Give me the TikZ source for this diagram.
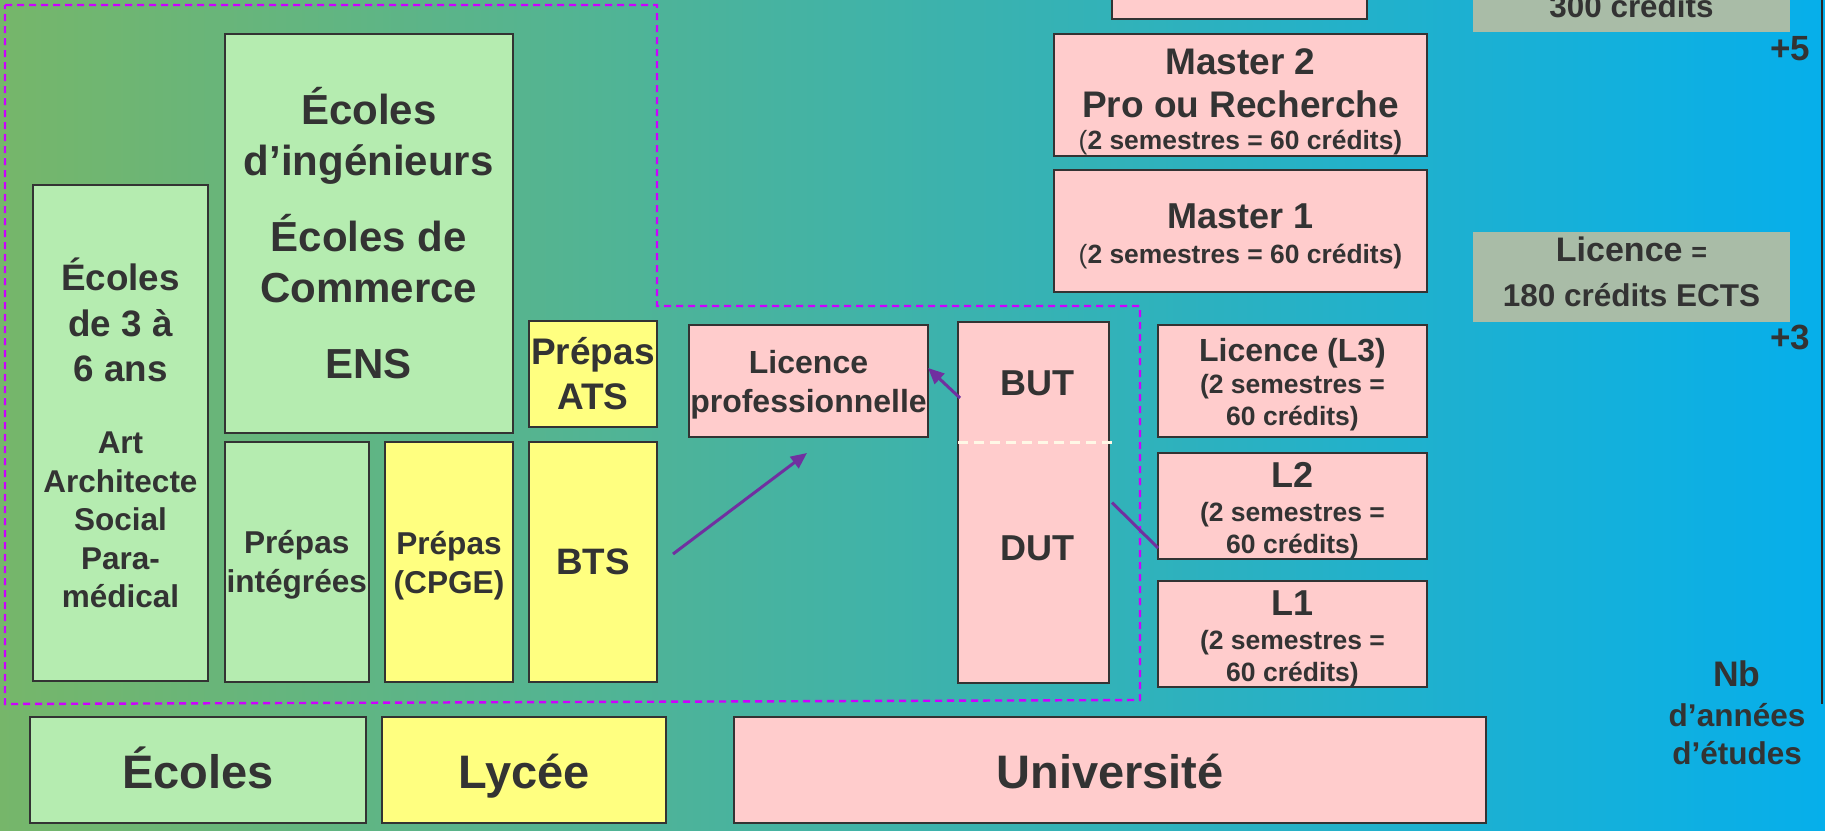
\documentclass[tikz,border=0pt]{standalone}
\usepackage{fontspec}
\setmainfont{Liberation Sans}
\usetikzlibrary{positioning,arrows.meta,calc}
\definecolor{ink}{RGB}{51,51,51}
\definecolor{vertpale}{RGB}{181,236,176}
\definecolor{jaunepale}{RGB}{255,255,128}
\definecolor{rosepale}{RGB}{255,204,204}
\definecolor{grisvert}{RGB}{169,188,167}
\definecolor{fondg}{RGB}{118,182,106}
\definecolor{fondm}{RGB}{50,178,178}
\definecolor{fondd}{RGB}{6,175,235}
\definecolor{pointille}{RGB}{204,0,255}
\definecolor{mauve}{RGB}{112,48,160}
\definecolor{creme}{RGB}{255,248,230}
\newcommand\gras[2]{\fontsize{#1}{#2}\selectfont\bfseries}

\begin{document}
\begin{tikzpicture}[x=0.5pt, y=-0.5pt, text=ink,
  box/.style={draw=ink, line width=1pt, align=center, inner sep=0pt, outer sep=0pt},
  vert/.style={box, fill=vertpale},
  jaune/.style={box, fill=jaunepale},
  rose/.style={box, fill=rosepale},
  gris/.style={fill=grisvert, align=center, inner sep=0pt},
  ligne/.style={font=\gras{23.5}{28}, text height=18pt, text depth=0pt},
  fleche/.style={draw=mauve, line width=1.5pt, -{Triangle[length=8pt,width=7pt]}},
  zone/.style={draw=pointille, line width=1.2pt, dash pattern=on 3.5pt off 2.5pt}]
   \useasboundingbox (0,0) rectangle (1825,830);
   \clip (0,0) rectangle (1825,830);
   \shade[left color=fondg, middle color=fondm, right color=fondd] (0,0) rectangle (1825,830);
   \draw[zone] (5,5) -- (657,5) -- (657,306) -- (1140,306) -- (1140,700) -- (5,704) -- cycle;

   \node[vert, minimum width=87.5pt, minimum height=248pt, font=\gras{15.75}{19.25}] (ecoles36) at (120.5,433)
     {{\gras{18.4}{22.75}Écoles}\\[3.5pt]{\gras{18.4}{22.75}de 3 à}\\[3.5pt]{\gras{18.4}{22.75}6 ans}\\[16.75pt]Art\\Architecte\\Social\\Para-\\médical};
   \node[vert, minimum width=144.25pt, minimum height=199.5pt, font=\gras{21}{25.5}] (ing) at (368.75,233.5)
     {Écoles\\d’ingénieurs\\[12.5pt]Écoles de\\Commerce\\[12.5pt]ENS};
   \node[vert, minimum width=72.25pt, minimum height=120pt, font=\gras{15.8}{19.5}] (pint) at (296.75,562) {\rule{0pt}{14.8pt}Prépas\\intégrées};
   \node[jaune, minimum width=64pt, minimum height=120pt, font=\gras{15.8}{19.5}] (cpge) [right=8pt of pint] {\rule{0pt}{14.8pt}Prépas\\(CPGE)};
   \node[jaune, minimum width=64pt, minimum height=120pt, font=\gras{18.4}{22}] (bts) [right=8pt of cpge] {BTS};
   \node[jaune, minimum width=64pt, minimum height=53pt, font=\gras{18.5}{22.5}] (ats) [above=7.5pt of bts] {Prépas\\ATS};

   \node[vert, ligne, minimum width=168pt, minimum height=53pt] (ecoles) at (198,770) {Écoles};
   \node[jaune, ligne, minimum width=142pt, minimum height=53pt] (lycee) [right=8pt of ecoles] {Lycée};
   \node[rose, ligne, minimum width=376pt, minimum height=53pt] (univ) at (1110,770) {Université};

   \node[rose, minimum width=119.5pt, minimum height=56pt, font=\gras{16}{19.5}] (lpro) at (808.5,381) {\rule{0pt}{14.85pt}Licence\\professionnelle};
   \node[rose, minimum width=75.5pt, minimum height=180.5pt] (butdut) at (1033.5,502.5) {};
   \draw[creme, line width=1.5pt, dash pattern=on 5pt off 3pt] ($(butdut.north west)+(0,120)$) -- ($(butdut.north east)+(3,120)$);
   \node[font=\gras{18}{22}] (but) at (1037,383) {BUT};
   \node[font=\gras{18}{22}] (dut) at (1037,548) {DUT};

   \node[rose, minimum width=127.5pt, minimum height=39pt] (mtop) at (1239.5,-20) {};
   \node[rose, minimum width=186.5pt, minimum height=61pt, font=\gras{18.5}{21.5}] (m2) at (1240.5,95)
     {\rule{0pt}{19.3pt}Master 2\\Pro ou Recherche\\[-5.5pt]{\gras{13.2}{16}\mdseries(\bfseries2 semestres = 60 crédits)}};
   \node[rose, minimum width=186.5pt, minimum height=61pt, font=\gras{18}{17.5}] (m1) [below=7pt of m2]
     {\rule{0pt}{17.3pt}Master 1\\{\gras{13.2}{16}\mdseries(\bfseries2 semestres = 60 crédits)}};
   \node[rose, minimum width=134.5pt, minimum height=56pt, font=\gras{13.25}{16}] (l3) at (1292.5,381)
     {{\gras{16}{16}\rule{0pt}{14.8pt}Licence (L3)}\\(2 semestres =\\60 crédits)};
   \node[rose, minimum width=134.5pt, minimum height=53pt, font=\gras{13.25}{16}] (l2) [below=8pt of l3]
     {{\gras{18}{18}\rule{0pt}{16.8pt}L2}\\[1pt](2 semestres =\\60 crédits)};
   \node[rose, minimum width=134.5pt, minimum height=53pt, font=\gras{13.25}{16}] (l1) [below=11pt of l2]
     {{\gras{18}{18}\rule{0pt}{17.3pt}L1}\\[1pt](2 semestres =\\60 crédits)};

   \node[gris, minimum width=158.5pt, minimum height=46pt] (gtop) at (1631.5,-14) {};
   \node[font=\gras{15.7}{18}, anchor=base] (trois) at (1631.5,18) {300 crédits};
   \node[gris, minimum width=158.5pt, minimum height=45pt, font=\gras{15.75}{22.5}] (glic) at (1631.5,277)
     {{\gras{17}{22.5}Licence} {\gras{13.5}{16}=}\\180 crédits ECTS\rule[-5pt]{0pt}{0pt}};
   \node[font=\gras{17.5}{20}, anchor=base] (plus5) at (1790,61) {+5};
   \node[font=\gras{17.5}{20}, anchor=base] (plus3) at (1790,349) {+3};
   \node[font=\gras{15.75}{19}, align=center] (nb) at (1737,713) {{\gras{17.75}{20}Nb}\\[1pt]d’années\\d’études};
   \draw[draw={rgb,255:red,40;green,40;blue,40}, line width=1.4pt] (1822,0) -- (1822,704);

   \draw[fleche] ($(bts.east)+(16,-8)$) -- ($(lpro.south)+(-1.5,16)$);
   \draw[fleche] ($(butdut.north west)+(2,76)$) -- ($(lpro.east)+(0,-13)$);
   \draw[mauve, line width=1.5pt] ($(butdut.east)+(3,0)$) -- ($(l2.south west)+(0,-11)$);
\end{tikzpicture}
\end{document}
